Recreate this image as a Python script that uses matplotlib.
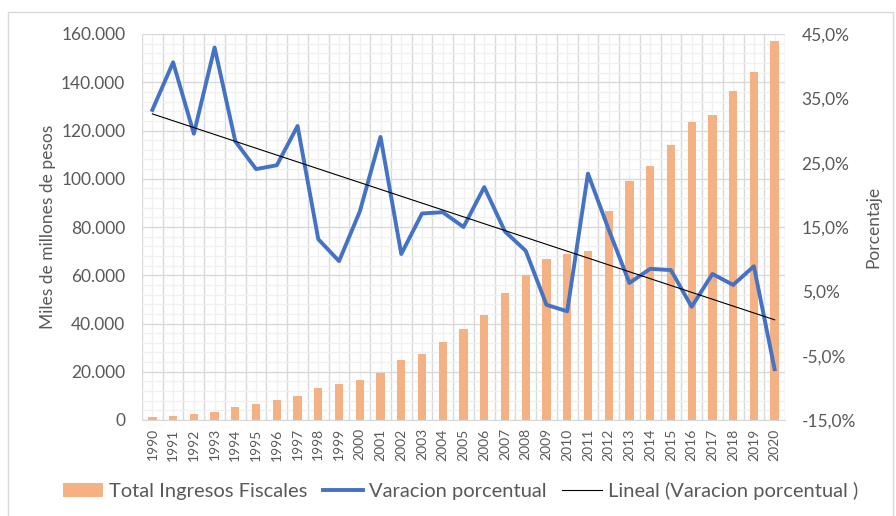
import numpy as np
import matplotlib
matplotlib.use("Agg")
import matplotlib.pyplot as plt
from matplotlib.ticker import FuncFormatter, MultipleLocator
from matplotlib.patches import Rectangle

plt.rcParams['font.family'] = ['Lato', 'DejaVu Sans']

# Datos
years = [str(y) for y in range(1990, 2021)]
ingresos = [1300, 1700, 2600, 3450, 5250, 6500, 8300, 9950, 13400, 15100,
            16400, 19300, 25000, 27500, 32300, 37900, 43400, 52500, 60200, 66600,
            69000, 70000, 86500, 99100, 105400, 114000, 123500, 126400, 136400, 144100,
            157100]
variacion = [33.2, 40.6, 29.5, 42.9, 28.3, 24.0, 24.6, 30.7, 13.1, 9.7,
             17.4, 29.0, 10.8, 17.1, 17.3, 15.0, 21.2, 14.3, 11.3, 2.9,
             1.9, 23.3, 14.6, 6.3, 8.5, 8.3, 2.6, 7.7, 6.0, 8.9,
             -7.1]

gris = '#595959'
naranja = '#F4B183'
azul = '#4472C4'

fig = plt.figure(figsize=(8.96, 5.16), dpi=100)
fig.patches.append(Rectangle((8 / 896, -0.05), 885 / 896, 1.05 - 12 / 516,
                             transform=fig.transFigure, fill=False,
                             edgecolor='#D9D9D9', linewidth=1))

ax = fig.add_axes([142 / 896, 1 - 420 / 516, 643 / 896, 386 / 516])
x = np.arange(len(years))

barras = ax.bar(x, ingresos, width=0.4, color=naranja, zorder=2,
                label='Total Ingresos Fiscales')
ax.set_xlim(-0.5, len(years) - 0.5)
ax.set_ylim(0, 160000)
ax.yaxis.set_major_locator(MultipleLocator(20000))
ax.yaxis.set_minor_locator(MultipleLocator(4000))
ax.set_xticks(x)
ax.set_xticks(np.arange(-0.5, len(years), 1), minor=True)
ax.set_xticklabels(years, rotation=90, fontsize=10, color=gris)
ax.yaxis.set_major_formatter(FuncFormatter(lambda v, p: f"{int(v):,}".replace(',', '.')))
ax.tick_params(axis='y', which='both', length=0, labelsize=12.5, labelcolor=gris, pad=12)
ax.tick_params(axis='x', which='both', length=0, pad=6)

# grilla tipo Excel
ax.set_axisbelow(True)
ax.grid(which='major', axis='y', color='#D9D9D9', linewidth=1)
ax.grid(which='minor', axis='y', color='#F0F0F0', linewidth=1)
ax.grid(which='minor', axis='x', color='#D9D9D9', linewidth=1)
ax.grid(which='major', axis='x', color='#F0F0F0', linewidth=1)
for s in ['top', 'left', 'right']:
    ax.spines[s].set_visible(False)
ax.spines['bottom'].set_color('#D9D9D9')

ax.set_ylabel('Miles de millones de pesos', fontsize=12.5, color=gris, labelpad=4)

ax2 = ax.twinx()
linea, = ax2.plot(x, variacion, color=azul, linewidth=2.8, zorder=3,
                  label='Varacion porcentual')
coef = np.polyfit(x, variacion, 1)
tend, = ax2.plot(x, np.polyval(coef, x), color='black', linewidth=0.8, zorder=4,
                 label='Lineal (Varacion porcentual )')
ax2.set_ylim(-15, 45)
ax2.set_yticks(np.arange(-15, 46, 10))
ax2.yaxis.set_major_formatter(FuncFormatter(lambda v, p: f"{v:.1f}%".replace('.', ',')))
ax2.tick_params(axis='y', length=0, labelsize=12.5, labelcolor=gris, pad=12)
for s in ax2.spines.values():
    s.set_visible(False)
ax2.set_ylabel('Porcentaje', fontsize=12.5, color=gris, labelpad=7)

fig.legend(handles=[barras, linea, tend], loc='center', ncol=3,
           bbox_to_anchor=(0.514, 1 - 491 / 516), frameon=False,
           fontsize=14.5, labelcolor=gris, handlelength=2.0,
           handletextpad=0.3, columnspacing=0.75)

plt.savefig('out.png', dpi=100)
